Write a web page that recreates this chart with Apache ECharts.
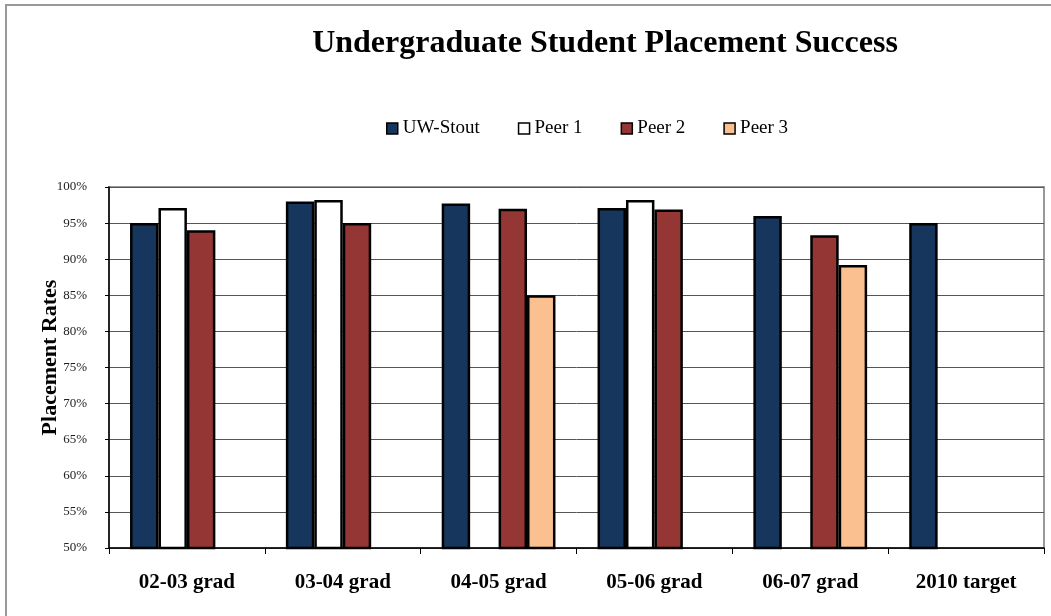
<!DOCTYPE html>
<html>
<head>
<meta charset="utf-8">
<script src="https://cdn.jsdelivr.net/npm/echarts@6/dist/echarts.min.js"></script>
<style>
html,body{margin:0;padding:0;background:#fff;}
#chart{width:1051px;height:616px;}
</style>
</head>
<body>
<div id="chart"></div>
<script>
const categories = ['02-03 grad', '03-04 grad', '04-05 grad', '05-06 grad', '06-07 grad', '2010 target'];
const uwStout = [95, 98, 97.7, 97.1, 96, 95];
const peer1 = [97.1, 98.2, null, 98.2, null, null];
const peer2 = [94, 95, 97, 96.9, 93.3, null];
const peer3 = [null, null, 85, null, 89.2, null];
const seriesNames = ['UW-Stout', 'Peer 1', 'Peer 2', 'Peer 3'];
const seriesColors = ['#17365d', '#ffffff', '#943634', '#fac090'];

const serif = '"Liberation Serif", "Times New Roman", serif';
const seriesData = [uwStout, peer1, peer2, peer3];

const chart = echarts.init(document.getElementById('chart'), null, {renderer: 'canvas'});
chart.setOption({
  backgroundColor: '#fff',
  animation: false,
  graphic: [{
    type: 'rect',
    shape: {x: 6, y: 5, width: 1200, height: 800},
    style: {fill: 'none', stroke: '#999', lineWidth: 2},
    silent: true
  }],
  title: {
    text: 'Undergraduate Student Placement Success',
    left: 600, textAlign: 'center', top: 23,
    textStyle: {fontFamily: serif, fontWeight: 'bold', fontSize: 32, color: '#000'}
  },
  legend: {
    data: seriesNames,
    top: 114, left: 381,
    icon: 'rect', itemWidth: 11, itemHeight: 11, itemGap: 38,
    textStyle: {fontFamily: serif, fontSize: 19, color: '#000'},
    itemStyle: {borderColor: '#000', borderWidth: 1.5}
  },
  grid: {
    left: 109, right: 7, top: 187, bottom: 68,
    show: true, borderColor: '#999', borderWidth: 2, backgroundColor: '#fff'
  },
  xAxis: {
    type: 'category',
    data: categories,
    axisLine: {lineStyle: {color: '#000', width: 1.5}},
    axisTick: {show: true, length: 6, lineStyle: {color: '#000'}},
    axisLabel: {margin: 24, fontFamily: serif, fontWeight: 'bold', fontSize: 21, color: '#000'}
  },
  yAxis: {
    type: 'value',
    min: 50, max: 100, interval: 5,
    name: 'Placement Rates',
    nameLocation: 'middle', nameGap: 48, nameRotate: 90,
    nameMoveOverlap: false,
    nameTextStyle: {fontFamily: serif, fontWeight: 'bold', fontSize: 22, color: '#000', padding: [0, 0, 0, 20]},
    axisLine: {show: true, lineStyle: {color: '#000', width: 1.5}},
    axisTick: {show: true, length: 4, lineStyle: {color: '#000'}},
    axisLabel: {margin: 22, fontFamily: serif, fontSize: 13, color: '#222', formatter: v => v + '%'},
    splitLine: {show: true, lineStyle: {color: '#555', width: 1}}
  },
  series: seriesNames.map((n, i) => ({
    name: n,
    type: 'bar',
    data: seriesData[i],
    barGap: '0%',
    barCategoryGap: '27%',
    itemStyle: {color: seriesColors[i], borderColor: '#000', borderWidth: 2.5}
  }))
});
</script>
</body>
</html>
